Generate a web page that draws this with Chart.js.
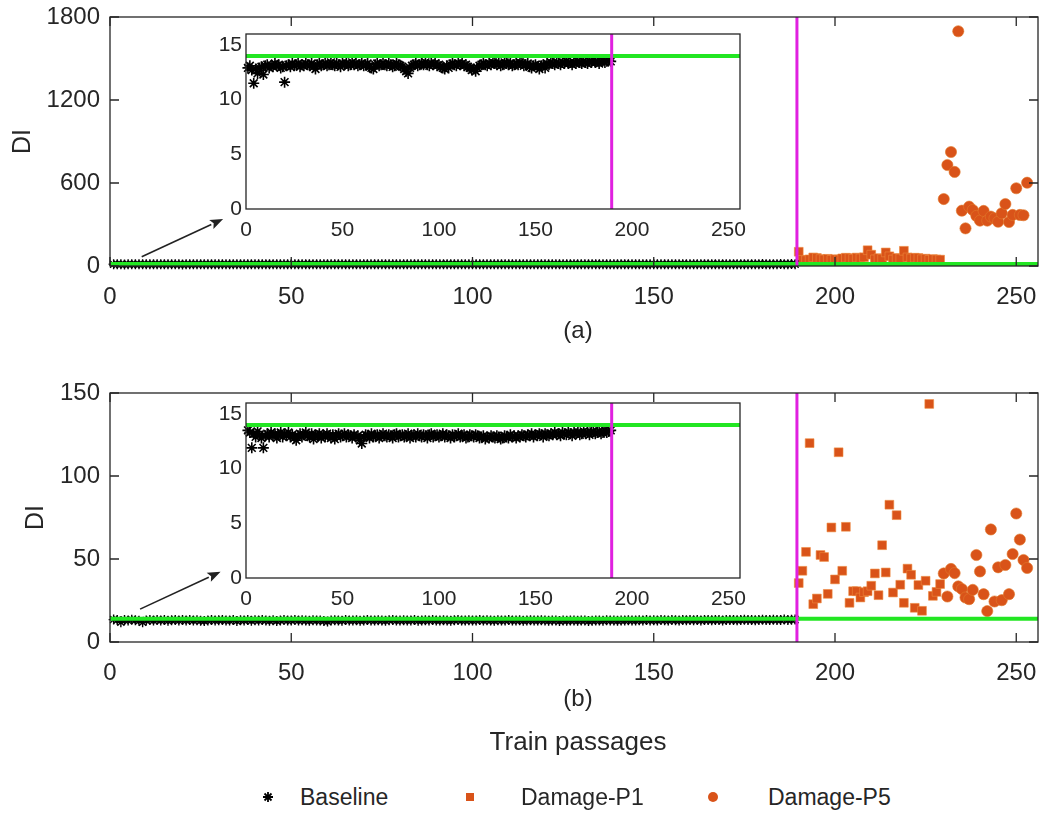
<!DOCTYPE html>
<html>
<head>
<meta charset="utf-8">
<script src="https://cdn.jsdelivr.net/npm/chart.js@4.4.1/dist/chart.umd.min.js"></script>
<style>
  body { margin:0; background:#fff; width:1045px; height:820px; position:relative; overflow:hidden;
         font-family:'Liberation Sans', Arial, sans-serif; color:#262626; }
  canvas { position:absolute; }
  .txt { position:absolute; font-size:24px; transform:translate(-50%,-50%); white-space:nowrap; }
  .leg { position:absolute; top:797px; font-size:23px; transform:translateY(-50%); white-space:nowrap; }
  .mk { position:absolute; top:797px; transform:translate(-50%,-50%); }
</style>
</head>
<body>
<canvas id="mainA" width="1045" height="320" style="left:0;top:0"></canvas>
<canvas id="insetA" width="570" height="230" style="left:190px;top:22px"></canvas>
<canvas id="mainB" width="1045" height="320" style="left:0;top:370px"></canvas>
<canvas id="insetB" width="570" height="230" style="left:190px;top:391px"></canvas>

<div class="txt" style="left:578px;top:330px">(a)</div>
<div class="txt" style="left:578px;top:698px">(b)</div>
<div class="txt" style="left:578px;top:741px;font-size:26px">Train passages</div>

<svg class="mk" style="left:268px" width="12" height="12" viewBox="-6 -6 12 12">
  <path d="M0,-5V5M-5,0H5M-3.5,-3.5L3.5,3.5M-3.5,3.5L3.5,-3.5" stroke="#000" stroke-width="1.8"/>
</svg>
<div class="leg" style="left:300px">Baseline</div>
<svg class="mk" style="left:470px" width="8" height="8"><rect width="8" height="8" fill="#D95319"/></svg>
<div class="leg" style="left:521px">Damage-P1</div>
<svg class="mk" style="left:713px" width="11" height="11"><circle cx="5.5" cy="5.5" r="5" fill="#D95319"/></svg>
<div class="leg" style="left:768px">Damage-P5</div>

<script>
// ---- data ----
const baselineA = [
  12.9, 13.1, 12.7, 11.5, 12.8, 12.4, 12.9, 13.0, 12.3, 13.1,
  13.2, 12.9, 13.1, 13.0, 13.3, 13.1, 13.2, 12.9, 13.0, 11.6,
  13.1, 13.2, 13.0, 13.3, 13.1, 13.2, 13.3, 13.0, 13.2, 13.1,
  13.3, 13.2, 13.1, 13.3, 13.0, 12.8, 13.2, 13.3, 13.1, 13.2,
  13.3, 13.1, 13.2, 13.4, 13.2, 13.1, 13.3, 13.2, 13.0, 13.3,
  13.2, 13.3, 13.1, 13.2, 13.4, 13.2, 13.3, 13.1, 13.2, 13.3,
  13.1, 13.2, 13.3, 13.0, 12.9, 12.8, 13.2, 13.3, 13.1, 13.2,
  13.3, 13.2, 13.1, 13.3, 13.2, 13.0, 13.1, 13.3, 13.2, 13.1,
  13.0, 12.8, 12.6, 12.4, 12.9, 13.1, 13.2, 13.3, 13.1, 13.2,
  13.3, 13.2, 13.4, 13.2, 13.1, 13.3, 13.2, 13.3, 13.1, 13.2,
  13.0, 12.9, 12.8, 13.1, 12.9, 13.2, 13.3, 13.2, 13.1, 13.3,
  13.2, 13.3, 13.1, 13.2, 13.0, 12.9, 12.7, 12.8, 12.6, 12.9,
  13.1, 13.2, 13.3, 13.2, 13.1, 13.3, 13.2, 13.4, 13.3, 13.2,
  13.3, 13.1, 13.2, 13.4, 13.3, 13.2, 13.3, 13.1, 13.2, 13.3,
  13.2, 13.4, 13.3, 13.1, 13.2, 13.3, 13.0, 12.9, 13.1, 13.2,
  13.0, 12.8, 13.1, 13.2, 12.9, 13.3, 13.2, 13.4, 13.3, 13.2,
  13.4, 13.3, 13.2, 13.4, 13.3, 13.5, 13.3, 13.4, 13.2, 13.4,
  13.3, 13.5, 13.4, 13.3, 13.5, 13.4, 13.3, 13.5, 13.4, 13.6,
  13.4, 13.5, 13.3, 13.5, 13.6, 13.4, 13.5, 13.6, 13.5
];
const damageP1A = [
  103, 45, 42, 48, 62, 58, 50, 47, 52, 44,
  49, 46, 55, 60, 57, 52, 61, 55, 63, 114,
  82, 48, 57, 52, 98, 70, 47, 58, 54, 110,
  62, 55, 60, 58, 49, 53, 44, 50, 47, 46
];
const damageP5A = [
  484, 730, 824, 680, 1697, 400, 272, 429, 405, 362, 328, 398,
  328, 357, 345, 320, 381, 448, 318, 369, 562, 369, 367, 602
];

const baselineB = [
  13.5, 13.3, 11.9, 13.2, 12.9, 13.4, 13.1, 12.8, 11.9, 13.0,
  13.2, 12.9, 13.3, 13.0, 13.2, 12.8, 13.1, 13.3, 12.9, 13.2,
  13.0, 13.3, 12.9, 13.1, 12.8, 12.6, 13.0, 13.2, 12.9, 13.1,
  13.3, 13.0, 12.9, 13.2, 12.7, 13.1, 13.0, 13.2, 12.8, 13.1,
  12.9, 13.2, 13.0, 12.8, 13.1, 12.7, 13.0, 13.2, 12.9, 13.0,
  13.2, 12.9, 13.1, 13.0, 12.8, 13.1, 12.9, 13.0, 12.6, 12.3,
  12.9, 13.1, 13.0, 12.8, 13.2, 12.9, 13.0, 13.1, 12.8, 13.0,
  13.2, 13.0, 12.9, 13.1, 13.0, 12.8, 13.1, 13.2, 12.9, 13.0,
  13.1, 12.9, 13.0, 13.2, 12.8, 13.0, 13.1, 12.9, 13.2, 13.0,
  12.9, 13.1, 13.0, 12.8, 13.1, 13.2, 12.9, 13.0, 13.1, 12.9,
  13.0, 13.2, 12.9, 13.1, 13.0, 12.8, 13.1, 12.9, 13.0, 13.2,
  12.9, 13.0, 13.1, 12.8, 12.9, 13.1, 13.0, 12.9, 13.1, 13.0,
  12.8, 12.9, 13.0, 12.7, 12.9, 12.8, 13.0, 12.9, 12.8, 13.0,
  12.9, 12.7, 12.8, 13.0, 12.9, 12.8, 13.1, 12.9, 13.0, 12.8,
  13.0, 12.9, 13.1, 13.0, 12.9, 13.1, 13.0, 13.2, 12.9, 13.1,
  13.0, 13.2, 13.1, 12.9, 13.2, 13.1, 13.0, 13.2, 13.1, 13.3,
  13.1, 13.2, 13.0, 13.3, 13.2, 13.1, 13.3, 13.2, 13.0, 13.3,
  13.2, 13.3, 13.1, 13.2, 13.4, 13.2, 13.3, 13.1, 13.3, 13.4,
  13.2, 13.3, 13.4, 13.2, 13.3, 13.5, 13.3, 13.4, 13.5
];
const damageP1B = [
  35.5, 42.9, 54.3, 119.8, 22.8, 26.2, 52.4, 51.2, 29.0, 69.0,
  37.7, 114.3, 42.9, 69.4, 23.6, 30.6, 30.6, 26.8, 30.0, 30.6,
  33.9, 41.3, 28.2, 58.3, 41.9, 82.7, 29.8, 76.4, 34.5, 23.6,
  44.2, 40.5, 20.6, 34.3, 18.8, 36.9, 143.4, 27.8, 30.2, 34.9
];
const damageP5B = [
  41.3, 27.4, 44.0, 41.5, 33.5, 31.9, 26.8, 25.8, 31.4, 52.4, 42.5, 28.8,
  18.6, 67.8, 24.4, 45.0, 25.2, 46.4, 28.8, 53.0, 77.4, 61.7, 49.4, 44.6
];

const baselineStart = 1;     // first baseline passage
const p1Start = 190;         // first Damage-P1 passage
const p5Start = 230;         // first Damage-P5 passage
const damageOnset = 189.5;   // magenta line
const thresholdA = 14;
const thresholdB = 14;
const xMax = 256;
const xStep = 50;
const yMaxA = 1800, yStepA = 600;
const yMaxB = 150, yStepB = 50;
const insetYMax = 16, insetYStep = 5;

const ORANGE = '#D95319';
const GREEN = '#22e622';
const MAGENTA = '#e020e0';

Chart.defaults.font.family = "'Liberation Sans', Arial, sans-serif";
Chart.defaults.color = '#262626';
Chart.defaults.animation = false;

const toPts = (vals, start) => vals.map((v, i) => ({ x: start + i, y: v }));
const plain = v => String(v);

// box, inward ticks and arrow (MATLAB look)
const framePlugin = {
  id: 'frame',
  beforeDraw(chart) {
    const { ctx, chartArea: a } = chart;
    ctx.save();
    ctx.fillStyle = '#fff';
    ctx.fillRect(a.left, a.top, a.width, a.height);
    ctx.restore();
  },
  afterDraw(chart, args, opts) {
    const { ctx, chartArea: a, scales } = chart;
    ctx.save();
    ctx.strokeStyle = '#262626';
    ctx.lineWidth = opts.lineWidth;
    ctx.strokeRect(a.left, a.top, a.width, a.height);
    const len = opts.tickLength;
    if (len) {
      ctx.beginPath();
      scales.x.ticks.forEach(t => {
        const px = scales.x.getPixelForValue(t.value);
        ctx.moveTo(px, a.bottom); ctx.lineTo(px, a.bottom - len);
        ctx.moveTo(px, a.top); ctx.lineTo(px, a.top + len);
      });
      scales.y.ticks.forEach(t => {
        const py = scales.y.getPixelForValue(t.value);
        ctx.moveTo(a.left, py); ctx.lineTo(a.left + len, py);
        ctx.moveTo(a.right, py); ctx.lineTo(a.right - len, py);
      });
      ctx.stroke();
    }
    if (opts.arrow) {
      const [x0, y0, x1, y1] = opts.arrow;
      const ax = scales.x.getPixelForValue(x0), ay = scales.y.getPixelForValue(y0);
      const bx = scales.x.getPixelForValue(x1), by = scales.y.getPixelForValue(y1);
      const ang = Math.atan2(by - ay, bx - ax);
      const hl = 13, hw = 5;
      ctx.strokeStyle = '#222';
      ctx.fillStyle = '#222';
      ctx.lineWidth = 1.6;
      ctx.beginPath();
      ctx.moveTo(ax, ay);
      ctx.lineTo(bx - hl * Math.cos(ang), by - hl * Math.sin(ang));
      ctx.stroke();
      ctx.beginPath();
      ctx.moveTo(bx, by);
      ctx.lineTo(bx - hl * Math.cos(ang) + hw * Math.sin(ang), by - hl * Math.sin(ang) - hw * Math.cos(ang));
      ctx.lineTo(bx - hl * Math.cos(ang) * 0.8, by - hl * Math.sin(ang) * 0.8);
      ctx.lineTo(bx - hl * Math.cos(ang) - hw * Math.sin(ang), by - hl * Math.sin(ang) + hw * Math.cos(ang));
      ctx.closePath();
      ctx.fill();
    }
    ctx.restore();
  }
};

function refLines(threshold, yTop, width) {
  return [
    { type: 'line', data: [{ x: damageOnset, y: 0 }, { x: damageOnset, y: yTop }],
      borderColor: MAGENTA, borderWidth: 3, pointRadius: 0, order: 0, clip: 2 },
    { type: 'line', data: [{ x: 0, y: threshold }, { x: xMax, y: threshold }],
      borderColor: GREEN, borderWidth: width, pointRadius: 0, order: 1, clip: 3 }
  ];
}

function mainChart(id, base, p1, p5, threshold, yMax, yStep, padTop, titlePad, arrow) {
  new Chart(document.getElementById(id), {
    type: 'scatter',
    data: {
      datasets: [
        ...refLines(threshold, yMax, 4),
        { label: 'Baseline', data: toPts(base, baselineStart), pointStyle: 'star', pointRadius: 5,
          borderColor: '#000', backgroundColor: '#000', borderWidth: 1.4, order: 2, clip: 8 },
        { label: 'Damage-P1', data: toPts(p1, p1Start), pointStyle: 'rect', pointRadius: 6.2,
          backgroundColor: ORANGE, borderColor: '#ee8a3c', borderWidth: 0.6, order: 3 },
        { label: 'Damage-P5', data: toPts(p5, p5Start), pointStyle: 'circle', pointRadius: 5.6,
          backgroundColor: ORANGE, borderColor: '#e0782a', borderWidth: 0.6, order: 4 }
      ]
    },
    options: {
      responsive: false,
      devicePixelRatio: 1,
      layout: { padding: { left: 0, top: padTop, right: 7, bottom: 0 } },
      plugins: {
        legend: { display: false },
        tooltip: { enabled: false },
        frame: { lineWidth: 1.3, tickLength: 9, arrow: arrow }
      },
      scales: {
        x: {
          type: 'linear', min: 0, max: xMax,
          grid: { display: false, drawTicks: false },
          border: { display: false },
          ticks: { stepSize: xStep, includeBounds: false, padding: 17, font: { size: 24 }, color: '#262626', callback: plain },
          afterFit: s => { s.height = 320 - padTop - 249; s.paddingLeft = 0; s.paddingRight = 0; }
        },
        y: {
          min: 0, max: yMax,
          grid: { display: false, drawTicks: false },
          border: { display: false },
          ticks: { stepSize: yStep, includeBounds: false, padding: 10, font: { size: 24 }, color: '#262626', callback: plain },
          title: { display: true, text: 'DI', font: { size: 25 }, padding: { top: titlePad, bottom: 0 }, color: '#262626' },
          afterFit: s => { s.width = 110; s.paddingTop = 0; s.paddingBottom = 0; }
        }
      }
    },
    plugins: [framePlugin]
  });
}

function insetChart(id, base, threshold) {
  new Chart(document.getElementById(id), {
    type: 'scatter',
    data: {
      datasets: [
        ...refLines(threshold, insetYMax, 4),
        { label: 'Baseline', data: toPts(base, baselineStart), pointStyle: 'star', pointRadius: 5.5,
          borderColor: '#000', backgroundColor: '#000', borderWidth: 1.6, order: 2, clip: 8 }
      ]
    },
    options: {
      responsive: false,
      devicePixelRatio: 1,
      layout: { padding: { left: 0, top: 12, right: 20, bottom: 0 } },
      plugins: {
        legend: { display: false },
        tooltip: { enabled: false },
        frame: { lineWidth: 1.3, tickLength: 0 }
      },
      scales: {
        x: {
          type: 'linear', min: 0, max: xMax,
          grid: { display: false, drawTicks: false },
          border: { display: false },
          ticks: { stepSize: xStep, includeBounds: false, padding: 9, font: { size: 21 }, color: '#262626', callback: plain },
          afterFit: s => { s.height = 43; s.paddingLeft = 0; s.paddingRight = 0; }
        },
        y: {
          min: 0, max: insetYMax,
          grid: { display: false, drawTicks: false },
          border: { display: false },
          ticks: { stepSize: insetYStep, includeBounds: false, padding: 4, font: { size: 21 }, color: '#262626', callback: plain },
          afterFit: s => { s.width = 56; s.paddingTop = 0; s.paddingBottom = 0; }
        }
      }
    },
    plugins: [framePlugin]
  });
}

mainChart('mainA', baselineA, damageP1A, damageP5A, thresholdA, yMaxA, yStepA, 17, 8, [8.75, 67, 31.2, 340]);
insetChart('insetA', baselineA, thresholdA);
mainChart('mainB', baselineB, damageP1B, damageP5B, thresholdB, yMaxB, yStepB, 23, 21, [8.3, 19.8, 30.5, 42.3]);
insetChart('insetB', baselineB, thresholdB);
</script>
</body>
</html>
